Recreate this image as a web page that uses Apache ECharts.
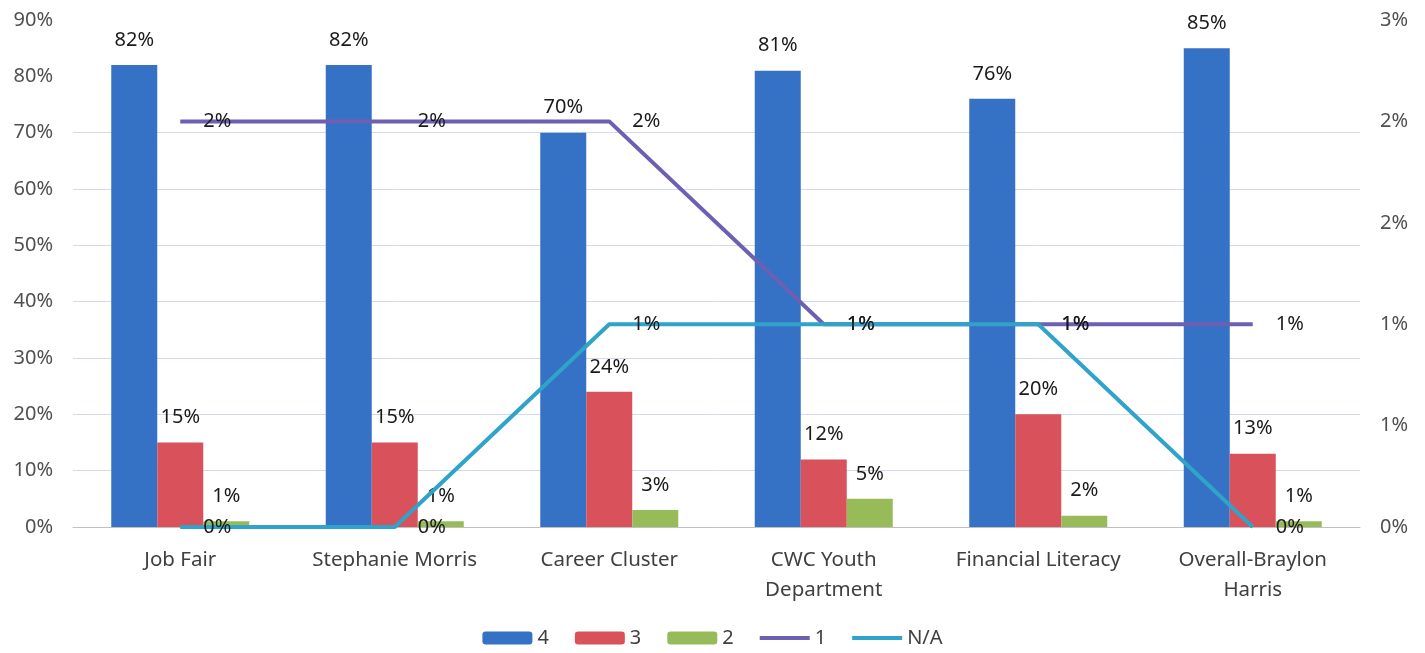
<!DOCTYPE html>
<html>
<head>
<meta charset="utf-8">
<script src="https://cdn.jsdelivr.net/npm/echarts@6/dist/echarts.min.js"></script>
<style>
html,body{margin:0;padding:0;background:#fff;}
#chart{width:1425px;height:653px;}
</style>
</head>
<body>
<div id="chart"></div>
<script>
const categories = ['Job Fair', 'Stephanie Morris', 'Career Cluster', 'CWC Youth\nDepartment', 'Financial Literacy', 'Overall-Braylon\nHarris'];
const seriesNames = ['4', '3', '2', '1', 'N/A'];
const s4 = [82, 82, 70, 81, 76, 85];
const s3 = [15, 15, 24, 12, 20, 13];
const s2 = [1, 1, 3, 5, 2, 1];
const s1 = [2.4, 2.4, 2.4, 1.2, 1.2, 1.2];
const sNA = [0, 0, 1.2, 1.2, 1.2, 0];

const FONT = 'Noto Sans';
const pct = v => Math.round(v) + '%';
const gridColor = '#d3dbe6';
const lineIcon = 'path://M0 0H50V4H0Z';

const chart = echarts.init(document.getElementById('chart'));
const barLabel = {show: true, position: 'top', distance: 15, fontFamily: FONT, fontSize: 20, color: '#1a1a1a', formatter: p => pct(p.value)};
const lineLabel = {show: true, position: 'right', distance: 23, fontFamily: FONT, fontSize: 20, color: '#1a1a1a', formatter: p => pct(p.value)};

chart.setOption({
  animation: false,
  backgroundColor: '#fff',
  textStyle: {fontFamily: FONT},
  grid: {left: 73, right: 65, top: 20, bottom: 126},
  legend: {
    bottom: 0,
    left: 'center',
    itemWidth: 50,
    itemHeight: 13,
    itemGap: 26,
    textStyle: {fontFamily: FONT, fontSize: 20, color: '#404040'},
    data: [
      {name: seriesNames[0]},
      {name: seriesNames[1]},
      {name: seriesNames[2]},
      {name: seriesNames[3], icon: lineIcon},
      {name: seriesNames[4], icon: lineIcon}
    ]
  },
  xAxis: {
    type: 'category',
    data: categories,
    axisTick: {show: false},
    axisLine: {show: true, lineStyle: {color: '#bfbfbf', width: 1}},
    axisLabel: {interval: 0, hideOverlap: false, fontFamily: FONT, fontSize: 20.5, color: '#404040', margin: 18, lineHeight: 30}
  },
  yAxis: [
    {
      type: 'value', min: 0, max: 90, interval: 10,
      axisLine: {show: false}, axisTick: {show: false},
      axisLabel: {fontFamily: FONT, fontSize: 20, color: '#505050', margin: 20, formatter: v => pct(v)},
      splitLine: {show: true, lineStyle: {width: 1, color: [gridColor, gridColor, gridColor, gridColor, gridColor, gridColor, gridColor, gridColor, 'rgba(0,0,0,0)', 'rgba(0,0,0,0)']}}
    },
    {
      type: 'value', min: 0, max: 3, interval: 0.6,
      axisLine: {show: false}, axisTick: {show: false},
      axisLabel: {fontFamily: FONT, fontSize: 20, color: '#505050', margin: 20, formatter: v => pct(v)},
      splitLine: {show: false}
    }
  ],
  series: [
    {name: seriesNames[0], type: 'bar', data: s4, barWidth: 46, barGap: '0%', itemStyle: {color: '#3572c6'}, label: barLabel},
    {name: seriesNames[1], type: 'bar', data: s3, barWidth: 46, barGap: '0%', itemStyle: {color: '#d9515b'}, label: barLabel},
    {name: seriesNames[2], type: 'bar', data: s2, barWidth: 46, barGap: '0%', itemStyle: {color: '#98bb5a'}, label: barLabel},
    {name: seriesNames[3], type: 'line', yAxisIndex: 1, data: s1, symbol: 'circle', symbolSize: 0, showSymbol: true, lineStyle: {color: '#6f5fb3', width: 4}, itemStyle: {color: '#6f5fb3'}, label: lineLabel, z: 5},
    {name: seriesNames[4], type: 'line', yAxisIndex: 1, data: sNA, symbol: 'circle', symbolSize: 0, showSymbol: true, lineStyle: {color: '#2fa3c9', width: 4}, itemStyle: {color: '#2fa3c9'}, label: lineLabel, z: 6}
  ]
});
</script>
</body>
</html>
